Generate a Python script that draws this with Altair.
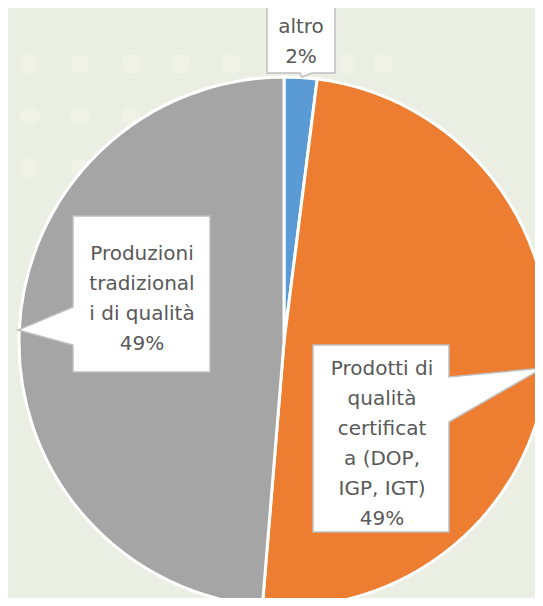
import altair as alt
import pandas as pd

# ---- data ----
categories = ["altro", "Prodotti di qualità certificata (DOP, IGP, IGT)", "Produzioni tradizionali di qualità"]
shares = [2.0, 49.3, 48.7]
colors = ["#5B9BD5", "#ED7D31", "#A5A5A5"]
label_lines = [
    ["altro"],
    ["Prodotti di", "qualità", "certificat", "a (DOP,", "IGP, IGT)"],
    ["Produzioni", "tradizional", "i di qualità"],
]

# ---- layout (chart pixel coordinates) ----
W, H = 527, 590
CX, CY, R = 276, 334, 265
label_pos = [(293, 19), (374, 361), (134, 246)]
callout_paths = [
    "M259,-4 H327 V65 H304 L294,69 L292,65 H259 Z",
    "M305,337 H441 V369 L535,360 L441,414 V524 H305 Z",
    "M65,208 H202 V364 H65 V337 L10,322 L65,299 Z",
]
# decorative background dots (theme pattern)
dot_x = [22, 72, 123, 173, 223, 338, 375]
dot_y = [56, 108, 160]

total = sum(shares)
pie_df = pd.DataFrame({"cat": categories, "share": shares, "ord": list(range(len(categories)))})
lab_df = pd.DataFrame({
    "cat": categories,
    "text": ["\n".join(l + [f"{round(s / total * 100)}%"]) for l, s in zip(label_lines, shares)],
    "px": [p[0] for p in label_pos],
    "py": [p[1] for p in label_pos],
    "path": callout_paths,
})
dots_df = pd.DataFrame([{"dx": x, "dy": y} for y in dot_y for x in dot_x])

dots = alt.Chart(dots_df).mark_circle(color="#F0F2E7", opacity=1, size=400).encode(
    x=alt.X("dx:Q", scale=None),
    y=alt.Y("dy:Q", scale=None),
)

pie = alt.Chart(pie_df).mark_arc(radius=R, stroke="white", strokeWidth=3).encode(
    theta=alt.Theta("share:Q", stack=True),
    order=alt.Order("ord:Q"),
    color=alt.Color("cat:N", scale=alt.Scale(domain=categories, range=colors), legend=None),
    x=alt.value(CX),
    y=alt.value(CY),
)

boxes = alt.Chart(lab_df).mark_point(
    filled=True, fill="white", stroke="#BFBFBF", strokeWidth=1.5, opacity=1, size=4
).encode(
    x=alt.value(0),
    y=alt.value(0),
    shape=alt.Shape("path:N", scale=None),
)

texts = alt.Chart(lab_df).mark_text(
    font="DejaVu Sans", fontSize=20, color="#595959", lineBreak="\n", lineHeight=30,
    align="center", baseline="middle",
).encode(
    x=alt.X("px:Q", scale=None),
    y=alt.Y("py:Q", scale=None),
    text="text:N",
)

chart = alt.layer(dots, pie, boxes, texts).properties(
    width=W, height=H, padding=0, background="#EBEEE2",
    autosize=alt.AutoSizeParams(type="none"),
).configure_view(stroke=None)

chart.save("out.html", embed_options={"renderer": "svg", "actions": False})
